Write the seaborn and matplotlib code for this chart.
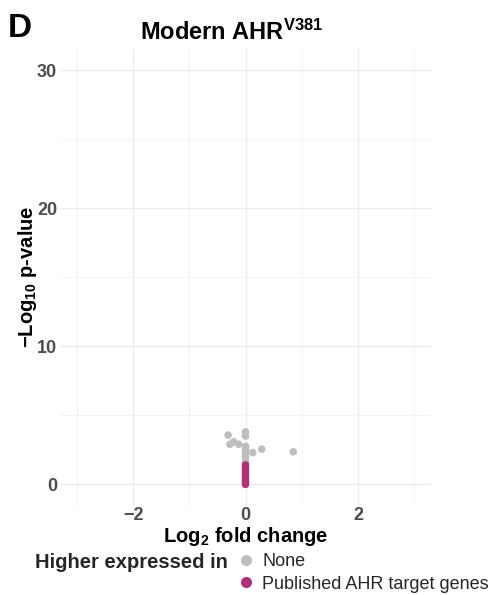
import matplotlib
matplotlib.use("Agg")
import matplotlib.pyplot as plt
import seaborn as sns
import pandas as pd
from matplotlib.lines import Line2D

# ---- data ----
none_fc = [-0.31, -0.28, -0.21, -0.12, 0.0, 0.0, 0.0, 0.0, 0.0, 0.0, 0.0, 0.0, 0.13, 0.29, 0.85]
none_p = [3.57, 2.90, 3.08, 2.90, 3.80, 3.50, 2.75, 2.50, 2.25, 2.00, 1.80, 1.60, 2.30, 2.55, 2.36]
ahr_fc = [0.0, 0.0, 0.0, 0.0, 0.0, 0.0, 0.0, 0.0]
ahr_p = [0.0, 0.2, 0.4, 0.6, 0.8, 1.0, 1.2, 1.4]
categories = ["None", "Published AHR target genes"]
colors = {"None": "#BEBEBE", "Published AHR target genes": "#B0307A"}
x_ticks = [-2, 0, 2]
x_labels = ["\u22122", "0", "2"]
y_ticks = [0, 10, 20, 30]

df = pd.DataFrame({
    "fc": none_fc + ahr_fc,
    "p": none_p + ahr_p,
    "group": ["None"] * len(none_fc) + ["Published AHR target genes"] * len(ahr_fc),
})

sns.set_theme(style="whitegrid")
plt.rcParams["font.family"] = ["Liberation Sans", "DejaVu Sans"]
plt.rcParams["mathtext.fontset"] = "custom"
plt.rcParams["mathtext.rm"] = "Liberation Sans"
plt.rcParams["mathtext.bf"] = "Liberation Sans:bold"
plt.rcParams["mathtext.it"] = "Liberation Sans:italic"

fig = plt.figure(figsize=(4.92, 5.95), dpi=100)
ax = fig.add_axes([0.122, 0.150, 0.754, 0.768])

sns.scatterplot(data=df, x="fc", y="p", hue="group", palette=colors,
                hue_order=categories, s=30, linewidth=0, alpha=1,
                legend=False, ax=ax, zorder=3)

ax.set_xlim(-3.3, 3.3)
ax.set_ylim(-1.55, 31.55)
ax.set_xticks(x_ticks)
ax.set_yticks(y_ticks)
ax.set_xticks([-3, -1, 1, 3], minor=True)
ax.set_yticks([5, 15, 25], minor=True)
ax.grid(which="major", color="#EBEBEB", linewidth=1.0)
ax.grid(which="minor", color="#F3F3F3", linewidth=0.7)
ax.set_facecolor("white")
for sp in ax.spines.values():
    sp.set_visible(False)
ax.tick_params(axis="both", which="both", length=0, pad=2)
ax.tick_params(axis="x", which="both", pad=1)
ax.set_xticklabels(x_labels, fontsize=13, fontweight="bold", color="#4D4D4D")
ax.set_yticklabels([str(t) for t in y_ticks],
                   fontsize=13, fontweight="bold", color="#4D4D4D")

ax.set_xlabel(r"Log$_\mathbf{2}$ fold change", fontsize=14.5, fontweight="bold",
              color="black", labelpad=0.5)
ax.set_ylabel("\u2212Log$_\\mathbf{10}$ p-value", fontsize=14.5, fontweight="bold",
              color="black", labelpad=-1)

fig.text(0.470, 0.933, r"Modern AHR$^{\mathbf{V381}}$", ha="center",
         va="baseline", fontsize=17, fontweight="bold", color="black")
fig.text(0.016, 0.938, "D", fontsize=24, fontweight="bold", color="black",
         va="baseline", ha="left")

# legend
fig.text(0.071, 0.055, "Higher expressed in", fontsize=14.5, fontweight="bold",
         va="center", ha="left")
handles = [Line2D([0], [0], marker="o", linestyle="", markersize=8,
                  markerfacecolor=colors[c], markeredgewidth=0) for c in categories]
fig.legend(handles, categories, loc="upper left", bbox_to_anchor=(0.482, 0.070),
           frameon=False, fontsize=13, handletextpad=0.4, labelspacing=0.3,
           handlelength=1.0, borderaxespad=0, borderpad=0)

fig.savefig("out.png", dpi=100)
